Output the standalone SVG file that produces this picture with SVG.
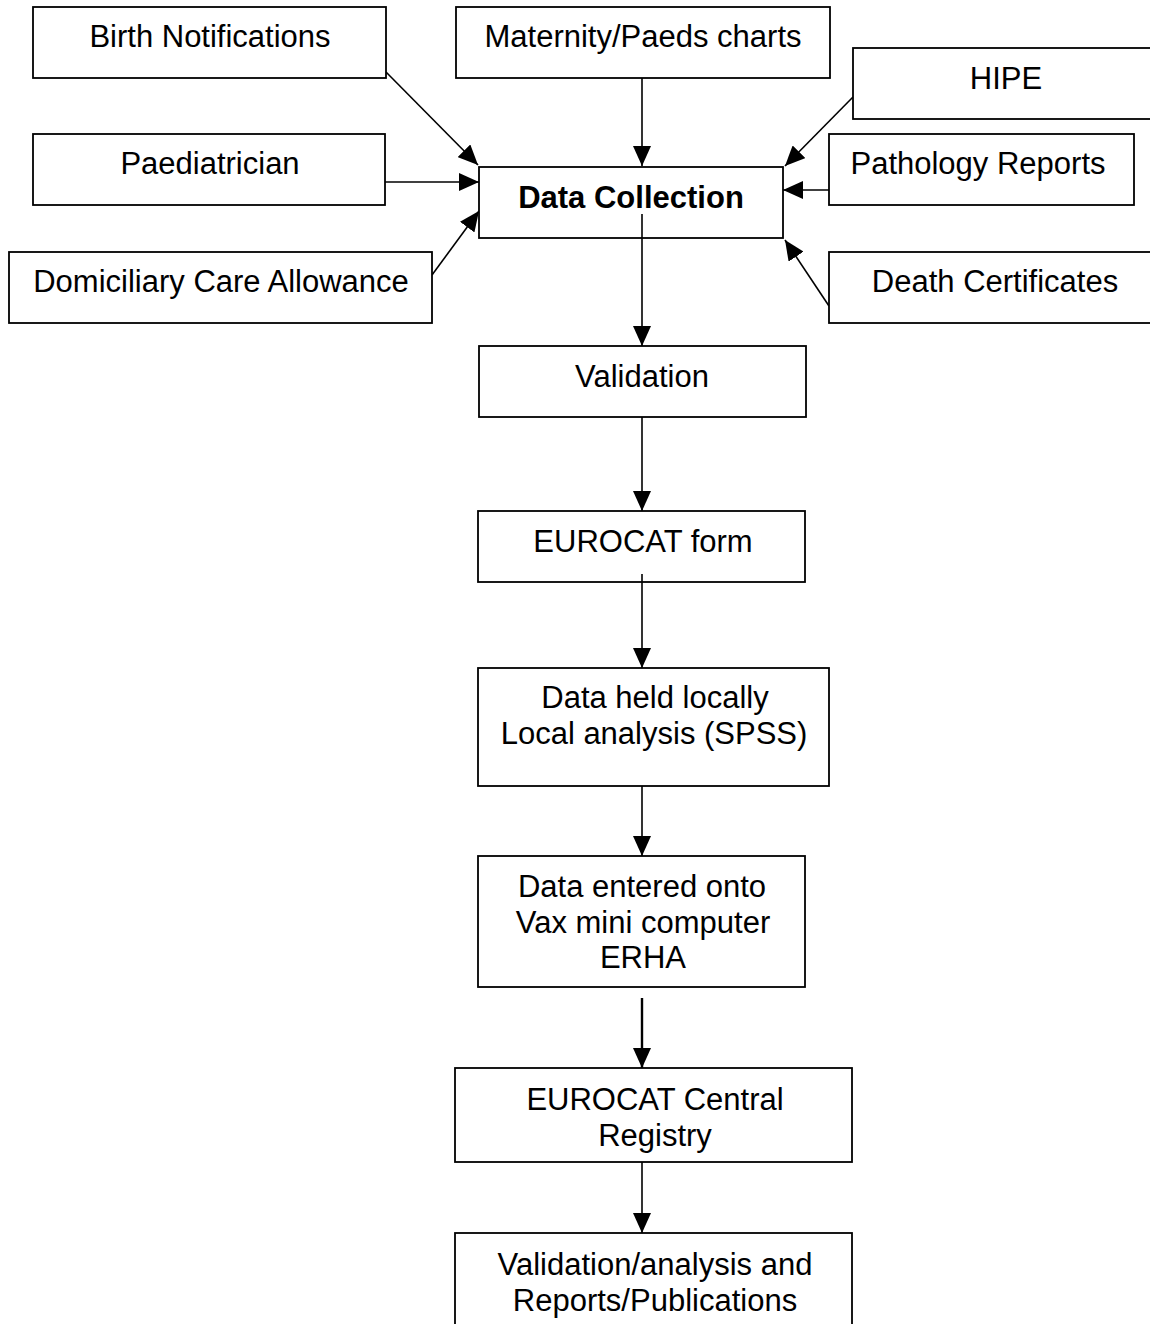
<svg xmlns="http://www.w3.org/2000/svg" width="1150" height="1324" viewBox="0 0 1150 1324">
<defs>
<style>
.box{fill:#fff;stroke:#000;stroke-width:1.8}
.t{font-family:"Liberation Sans",Arial,sans-serif;font-size:31px;fill:#000;text-anchor:middle}
.b{font-weight:bold}
.c{stroke:#000;stroke-width:1.6;fill:none;marker-end:url(#ah)}
</style>
<marker id="ah" markerUnits="userSpaceOnUse" markerWidth="20" markerHeight="18" refX="20" refY="9" orient="auto">
<path d="M0,0 L20,9 L0,18 z" fill="#000"/>
</marker>
</defs>
<rect width="1150" height="1324" fill="#fff"/>
<g id="connectors">
<line class="c" x1="386" y1="72" x2="478" y2="165"/>
<line class="c" x1="642" y1="78" x2="642" y2="166"/>
<line class="c" x1="385" y1="182" x2="479" y2="182"/>
<line class="c" x1="432" y1="275" x2="479" y2="211"/>
<line class="c" x1="853" y1="97" x2="785" y2="166"/>
<line class="c" x1="829" y1="190" x2="783" y2="190"/>
<line class="c" x1="829" y1="306" x2="785" y2="240"/>
<line class="c" x1="642" y1="214" x2="642" y2="346"/>
<line class="c" x1="642" y1="417" x2="642" y2="511"/>
<line class="c" x1="642" y1="574" x2="642" y2="668"/>
<line class="c" x1="642" y1="786" x2="642" y2="856"/>
<line class="c" x1="642" y1="998" x2="642" y2="1068" style="stroke-width:2.4"/>
<line class="c" x1="642" y1="1162" x2="642" y2="1233"/>
</g>
<g id="birth-notifications"><rect class="box" x="33" y="7" width="353" height="71"/><text class="t" x="210" y="47">Birth Notifications</text></g>
<g id="paediatrician"><rect class="box" x="33" y="134" width="352" height="71"/><text class="t" x="210" y="174">Paediatrician</text></g>
<g id="domiciliary"><rect class="box" x="9" y="252" width="423" height="71"/><text class="t" x="221" y="292">Domiciliary Care Allowance</text></g>
<g id="maternity"><rect class="box" x="456" y="7" width="374" height="71"/><text class="t" x="643" y="47">Maternity/Paeds charts</text></g>
<g id="hipe"><rect class="box" x="853" y="48" width="310" height="71"/><text class="t" x="1006" y="89">HIPE</text></g>
<g id="pathology"><rect class="box" x="829" y="134" width="305" height="71"/><text class="t" x="978" y="174">Pathology Reports</text></g>
<g id="death"><rect class="box" x="829" y="252" width="330" height="71"/><text class="t" x="995" y="292">Death Certificates</text></g>
<g id="data-collection"><rect class="box" x="479" y="167" width="304" height="71"/><text class="t b" x="631" y="208">Data Collection</text></g>
<line x1="642" y1="214" x2="642" y2="238" stroke="#000" stroke-width="1.6"/>
<g id="validation"><rect class="box" x="479" y="346" width="327" height="71"/><text class="t" x="642" y="387">Validation</text></g>
<g id="eurocat-form"><rect class="box" x="478" y="511" width="327" height="71"/><text class="t" x="643" y="552">EUROCAT form</text></g>
<line x1="642" y1="574" x2="642" y2="582" stroke="#000" stroke-width="1.6"/>
<g id="data-held"><rect class="box" x="478" y="668" width="351" height="118"/><text class="t" x="655" y="708">Data held locally</text><text class="t" x="654" y="744">Local analysis (SPSS)</text></g>
<g id="data-entered"><rect class="box" x="478" y="856" width="327" height="131"/><text class="t" x="642" y="897">Data entered onto</text><text class="t" x="643" y="933">Vax mini computer</text><text class="t" x="643" y="968">ERHA</text></g>
<g id="central-registry"><rect class="box" x="455" y="1068" width="397" height="94"/><text class="t" x="655" y="1110">EUROCAT Central</text><text class="t" x="655" y="1146">Registry</text></g>
<g id="reports"><rect class="box" x="455" y="1233" width="397" height="110"/><text class="t" x="655" y="1275">Validation/analysis and</text><text class="t" x="655" y="1311">Reports/Publications</text></g>
</svg>
